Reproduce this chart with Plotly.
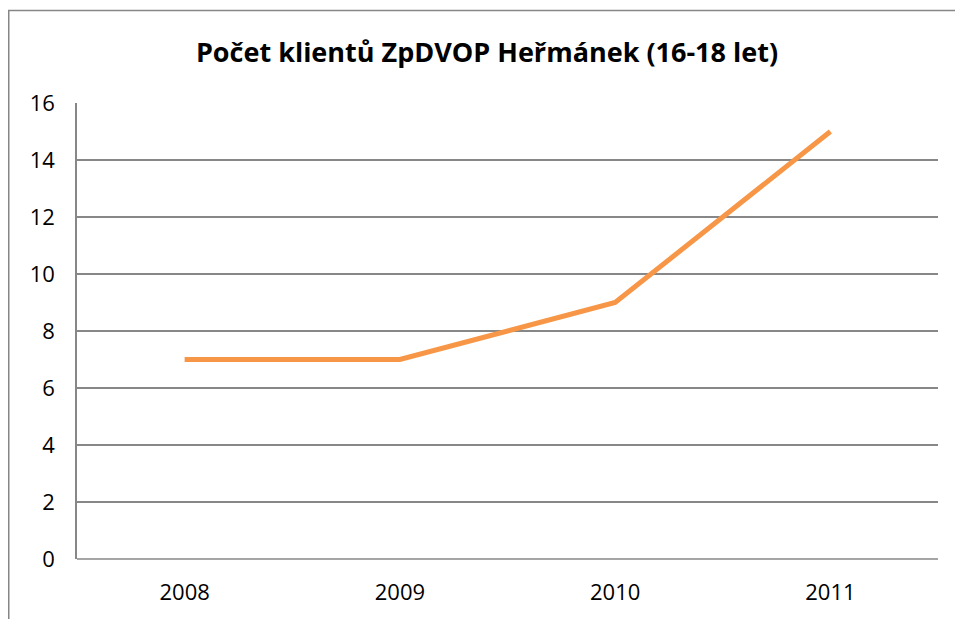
import plotly.graph_objects as go

years = ["2008", "2009", "2010", "2011"]
clients = [7, 7, 9, 15]
y_ticks = [0, 2, 4, 6, 8, 10, 12, 14, 16]
title_text = "Počet klientů ZpDVOP Heřmánek (16-18 let)"

W, H = 955, 619
L, T = 77, 103
R = W - 938
B = H - 559
pw, ph = W - L - R, H - T - B

fig = go.Figure()
fig.add_trace(go.Scatter(
    x=years, y=clients, mode="lines",
    line=dict(color="#F79646", width=5),
    hoverinfo="x+y",
))

grid = "#878787"
fig.update_layout(
    width=W, height=H,
    margin=dict(l=L, r=R, t=T, b=B),
    paper_bgcolor="white", plot_bgcolor="white",
    showlegend=False,
    font=dict(family="Open Sans, Liberation Sans, sans-serif", color="black"),
    title=dict(text="<b>" + title_text + "</b>", x=487 / W, xanchor="center",
               y=1 - 53 / H, yanchor="middle",
               font=dict(size=27, family="Open Sans, sans-serif", color="black")),
    xaxis=dict(type="category", range=[-0.5, 3.5], showgrid=False, zeroline=False,
               showline=False, ticks="", tickfont=dict(size=22),
               ticklabelstandoff=18),
    yaxis=dict(range=[0, 16], tickvals=y_ticks, showgrid=True, gridcolor=grid,
               gridwidth=1.5, zeroline=False, showline=True, linecolor=grid,
               linewidth=1.5, ticks="", tickfont=dict(size=22),
               ticklabelstandoff=16),
    shapes=[
        dict(type="line", xref="paper", yref="paper", x0=0, x1=1, y0=0, y1=0,
             line=dict(color=grid, width=1.5), layer="below"),
        dict(type="rect", xref="paper", yref="paper",
             x0=(8.75 - L) / pw, x1=(W + 5 - L) / pw,
             y0=-(B + 10) / ph, y1=(H - B - 10.5) / ph,
             line=dict(color="#868686", width=1.5), fillcolor="rgba(0,0,0,0)",
             layer="below"),
    ],
)

fig.write_html(
    "out.html",
    config={"displayModeBar": False},
    post_script="document.body.style.margin='0';document.body.style.overflow='hidden';",
)
